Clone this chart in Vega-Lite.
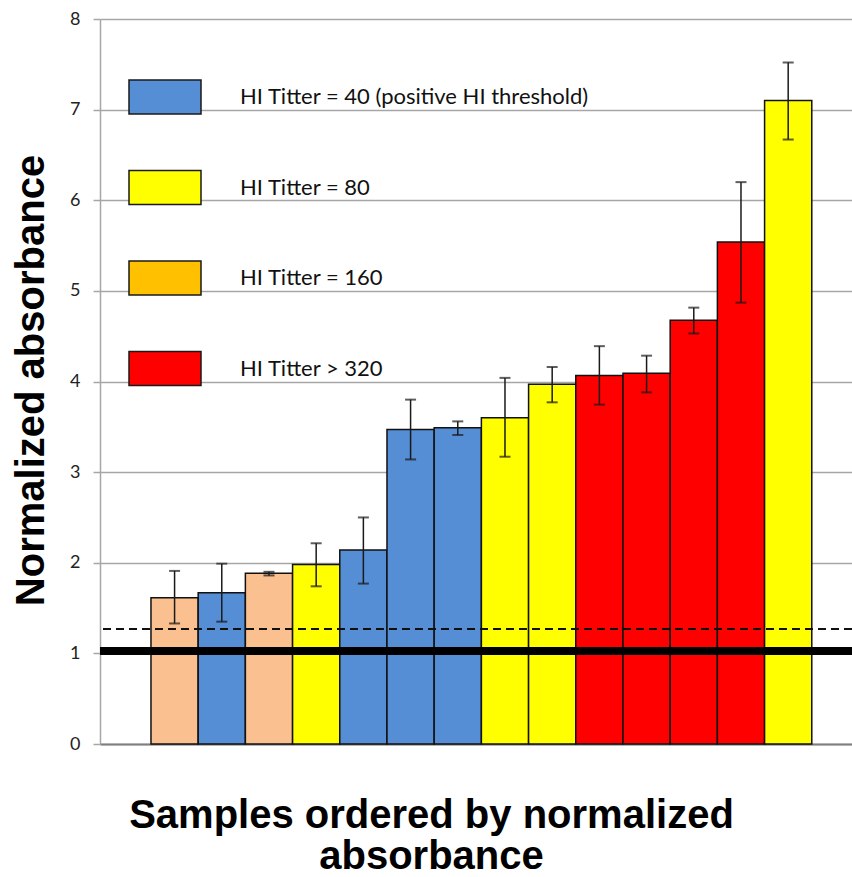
{
  "$schema": "https://vega.github.io/schema/vega-lite/v6.json",
  "width": 752,
  "height": 725,
  "autosize": {"type": "none"},
  "padding": {"left": 100, "top": 19, "right": 0, "bottom": 133},
  "background": "white",
  "data": {
    "values": [
      {"sample": 1, "titer": "HI Titter = 160", "value": 1.615, "lo": 1.33, "hi": 1.91},
      {"sample": 2, "titer": "HI Titter = 40 (positive HI threshold)", "value": 1.67, "lo": 1.35, "hi": 1.99},
      {"sample": 3, "titer": "HI Titter = 160", "value": 1.884, "lo": 1.86, "hi": 1.9},
      {"sample": 4, "titer": "HI Titter = 80", "value": 1.98, "lo": 1.74, "hi": 2.215},
      {"sample": 5, "titer": "HI Titter = 40 (positive HI threshold)", "value": 2.14, "lo": 1.77, "hi": 2.5},
      {"sample": 6, "titer": "HI Titter = 40 (positive HI threshold)", "value": 3.47, "lo": 3.14, "hi": 3.8},
      {"sample": 7, "titer": "HI Titter = 40 (positive HI threshold)", "value": 3.49, "lo": 3.41, "hi": 3.56},
      {"sample": 8, "titer": "HI Titter = 80", "value": 3.6, "lo": 3.17, "hi": 4.04},
      {"sample": 9, "titer": "HI Titter = 80", "value": 3.97, "lo": 3.77, "hi": 4.16},
      {"sample": 10, "titer": "HI Titter > 320", "value": 4.065, "lo": 3.745, "hi": 4.39},
      {"sample": 11, "titer": "HI Titter > 320", "value": 4.09, "lo": 3.88, "hi": 4.285},
      {"sample": 12, "titer": "HI Titter > 320", "value": 4.676, "lo": 4.53, "hi": 4.815},
      {"sample": 13, "titer": "HI Titter > 320", "value": 5.54, "lo": 4.87, "hi": 6.2},
      {"sample": 14, "titer": "HI Titter = 80", "value": 7.1, "lo": 6.67, "hi": 7.52}
    ]
  },
  "layer": [
    {
      "mark": {"type": "bar", "stroke": "#111111", "strokeWidth": 1.5},
      "encoding": {
        "x": {
          "field": "sample",
          "type": "ordinal",
          "scale": {"paddingInner": 0, "paddingOuter": 0.966, "align": 0.559},
          "axis": {
            "title": ["Samples ordered by normalized", "absorbance"],
            "labels": false,
            "ticks": false,
            "domainColor": "#7f7f7f",
            "domainWidth": 2,
            "titleFont": "Liberation Sans",
            "titleFontWeight": "bold",
            "titleFontSize": 40,
            "titleColor": "#000000",
            "titleLineHeight": 41,
            "titleX": 331,
            "titleY": 83,
            "titleAlign": "center",
            "titleBaseline": "alphabetic"
          }
        },
        "y": {
          "field": "value",
          "type": "quantitative",
          "scale": {"domain": [0, 8], "nice": false},
          "axis": {
            "title": "Normalized absorbance",
            "values": [0, 1, 2, 3, 4, 5, 6, 7, 8],
            "format": "d",
            "grid": true,
            "gridColor": "#a6a6a6",
            "gridWidth": 1.5,
            "domainColor": "#a6a6a6",
            "domainWidth": 1.5,
            "tickColor": "#a6a6a6",
            "tickWidth": 1.5,
            "tickSize": 7,
            "labelPadding": 13,
            "labelFont": "Lato",
            "labelFontSize": 18,
            "labelColor": "#222222",
            "titleFont": "Liberation Sans",
            "titleFontWeight": "bold",
            "titleFontSize": 40,
            "titleColor": "#000000",
            "titleX": -57,
            "titleY": 361,
            "titleAngle": -90,
            "titleAlign": "center",
            "titleBaseline": "alphabetic"
          }
        },
        "fill": {
          "field": "titer",
          "type": "nominal",
          "scale": {
            "domain": ["HI Titter = 40 (positive HI threshold)", "HI Titter = 80", "HI Titter = 160", "HI Titter > 320"],
            "range": ["#558ed5", "#ffff00", "#fac090", "#ff0000"]
          },
          "legend": null
        }
      }
    },
    {
      "mark": {"type": "rule", "color": "#000000", "strokeWidth": 7},
      "encoding": {"y": {"datum": 1.03, "type": "quantitative"}}
    },
    {
      "mark": {"type": "rule", "color": "#111111", "strokeWidth": 1.5, "strokeDash": [8, 5]},
      "encoding": {"y": {"datum": 1.27, "type": "quantitative"}}
    },
    {
      "mark": {"type": "rule", "color": "#1a1a1a", "strokeWidth": 1.5},
      "encoding": {
        "x": {"field": "sample", "type": "ordinal"},
        "y": {"field": "lo", "type": "quantitative"},
        "y2": {"field": "hi"}
      }
    },
    {
      "mark": {"type": "tick", "color": "#1a1a1a", "thickness": 2, "size": 11},
      "encoding": {
        "x": {"field": "sample", "type": "ordinal"},
        "y": {"field": "lo", "type": "quantitative"}
      }
    },
    {
      "mark": {"type": "tick", "color": "#1a1a1a", "thickness": 2, "size": 11},
      "encoding": {
        "x": {"field": "sample", "type": "ordinal"},
        "y": {"field": "hi", "type": "quantitative"}
      }
    },
    {
      "mark": {"type": "square", "size": 0, "filled": true},
      "encoding": {
        "x": {"field": "sample", "type": "ordinal"},
        "y": {"field": "value", "type": "quantitative"},
        "fill": {
          "field": "titer",
          "type": "nominal",
          "scale": {
            "domain": ["HI Titter = 40 (positive HI threshold)", "HI Titter = 80", "HI Titter = 160", "HI Titter > 320"],
            "range": ["#558ed5", "#ffff00", "#ffc000", "#ff0000"]
          },
          "legend": {
            "orient": "none",
            "legendX": 28,
            "legendY": 41,
            "title": null,
            "symbolType": "M-1,-0.472H1V0.472H-1Z",
            "symbolSize": 5184,
            "symbolStrokeColor": "#1a1a1a",
            "symbolStrokeWidth": 1.5,
            "symbolOpacity": 1,
            "labelFont": "Lato",
            "labelFontSize": 22,
            "labelColor": "#111111",
            "labelOffset": 38,
            "labelLimit": 0,
            "rowPadding": 33.5
          }
        }
      }
    }
  ],
  "resolve": {"scale": {"fill": "independent"}, "legend": {"fill": "independent"}},
  "config": {
    "view": {"stroke": null}
  }
}
